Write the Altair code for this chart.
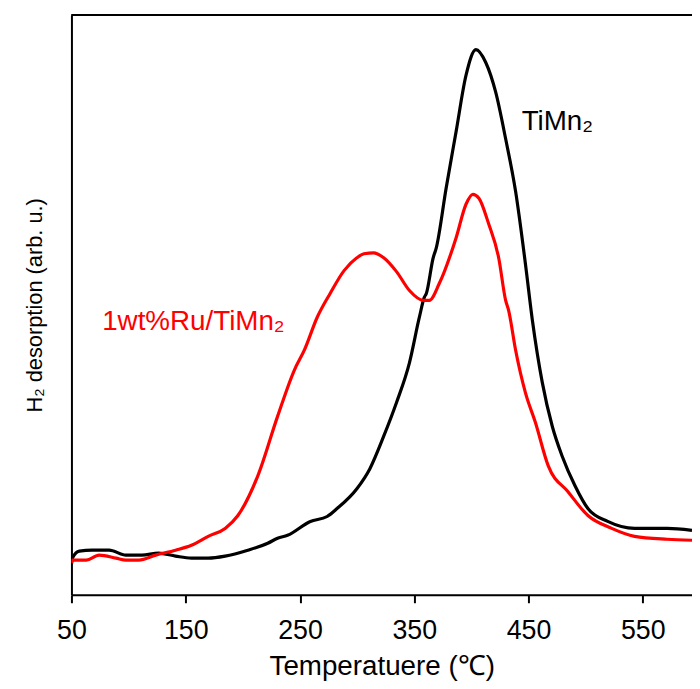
import altair as alt
import pandas as pd

# TiMn2 (black) digitised: temperature (°C) and intensity (arb. u.)
t_black = [50, 50.9, 56.9, 68.2, 83, 97.7, 111.6, 126.3, 141.1, 155, 169.7, 184.5,
           204.4, 221.8, 230.4, 239.1, 259.1, 273.8, 282.5, 299.8, 311.1, 323.3,
           334.5, 345.8, 354.5, 358.8, 360.6, 366.6, 369.3, 377.9, 386.6, 395.3,
           404, 412.6, 421.3, 430, 438.7, 447.3, 453.4, 462.1, 470.8, 479.4,
           490.7, 502, 519.3, 542.8, 571.4, 593.1]
i_black = [31, 37, 44, 45, 45, 40, 40, 42, 39, 37, 37, 39,
           45, 52, 57, 60, 74, 79, 87, 107, 127, 160,
           194, 234, 280, 300, 304, 340, 350, 410, 467, 524,
           550, 537, 507, 460, 407, 334, 277, 214, 170, 140,
           110, 87, 74, 67, 67, 65]

# 1wt%Ru/TiMn2 (red)
t_red = [50, 50.9, 63, 74.3, 89, 97.7, 109, 123.7, 141.1, 155, 169.7, 184.5,
         195.7, 213.1, 230.4, 245.2, 253.9, 265.1, 276.4, 288.6, 299.8, 306,
         314.6, 323.3, 334.5, 345.8, 358, 363.2, 371.9, 386.6, 395.3, 401.3,
         406.6, 415.2, 423.9, 430, 432.6, 438.7, 447.3, 456, 467.3, 484.6,
         502, 522.8, 542.8, 571.4, 593.1]
i_red = [32, 35, 35, 40, 37, 35, 35, 40, 45, 50, 59, 67,
         80, 120, 180, 227, 247, 280, 304, 327, 340, 344,
         345, 340, 326, 307, 297, 297, 314, 360, 394, 404,
         400, 374, 340, 297, 287, 247, 204, 174, 130, 104,
         80, 67, 59, 56, 55]

x_ticks = [50, 150, 250, 350, 450, 550]
label_text = ["1wt%Ru/TiMn₂", "TiMn₂"]
label_t = [76.9, 444]
label_i = [275, 477]
label_color = ["#ff0000", "#000000"]

df = pd.concat([
    pd.DataFrame({"T": t_black, "I": i_black, "s": "TiMn2"}),
    pd.DataFrame({"T": t_red, "I": i_red, "s": "Ru"}),
])
lab = pd.DataFrame({"T": label_t, "I": label_i, "text": label_text, "c": label_color})

W, H = 626, 585
FONT = "Liberation Sans"

xs = alt.Scale(domain=[50, 593.1], nice=False, zero=False)
ys = alt.Scale(domain=[0, 585], nice=False, zero=False)

lines = alt.Chart(df).mark_line(strokeWidth=3.2, clip=True, interpolate="monotone").encode(
    x=alt.X("T:Q", scale=xs, axis=alt.Axis(
        values=x_ticks, title="Temperatuere (℃)", grid=False,
        labelFontSize=27, titleFontSize=28, labelFont=FONT, titleFont=FONT,
        titleFontWeight="normal", labelColor="black", titleColor="black",
        domainColor="black", domainWidth=2, tickColor="black", tickWidth=2,
        tickSize=8, labelPadding=15, titlePadding=9, labelFlush=False)),
    y=alt.Y("I:Q", scale=ys, axis=alt.Axis(
        title="H₂ desorption (arb. u.)", labels=False, ticks=False, grid=False,
        titleFontSize=22, titleFont=FONT, titleFontWeight="normal",
        titleColor="black", domainColor="black", domainWidth=2, titlePadding=25)),
    color=alt.Color("s:N", scale=alt.Scale(domain=["TiMn2", "Ru"],
                                            range=["#000000", "#ff0000"]), legend=None),
    order=alt.Order("T:Q"),
)

texts = alt.Chart(lab).mark_text(align="left", baseline="middle", fontSize=28,
                                  font=FONT).encode(
    x=alt.X("T:Q", scale=xs),
    y=alt.Y("I:Q", scale=ys),
    text="text:N",
    color=alt.Color("c:N", scale=None),
)

top = alt.Chart(lab).mark_rule(color="black", strokeWidth=2).encode(
    x=alt.value(0), x2=alt.value(W), y=alt.value(0))

chart = alt.layer(lines, texts, top).properties(
    width=W, height=H,
    autosize=alt.AutoSizeParams(type="none"),
    padding={"left": 64, "top": 4, "right": 0, "bottom": 84},
).configure_view(stroke=None).configure(background="white")

chart.save("out.html", embed_options={"renderer": "svg", "actions": False})
